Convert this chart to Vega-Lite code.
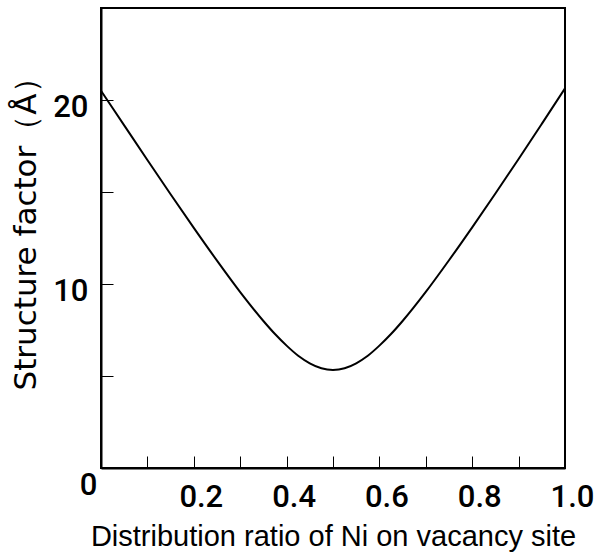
{
  "$schema": "https://vega.github.io/schema/vega-lite/v6.json",
  "width": 464,
  "height": 460,
  "autosize": {"type": "none"},
  "padding": {"left": 101, "top": 8, "right": 33, "bottom": 88},
  "background": "white",
  "config": {
    "view": {"stroke": "black", "strokeWidth": 2},
    "axis": {"grid": false, "domainColor": "black", "domainWidth": 2, "tickColor": "black", "tickWidth": 1, "labelColor": "black", "titleColor": "black", "labelFont": "Roboto", "titleFont": "Liberation Sans", "labelFontWeight": 500, "titleFontWeight": "normal"}
  },
  "data": {
    "values": [
      {"x": 0, "y": 20.5},
      {"x": 0.05, "y": 18.62},
      {"x": 0.1, "y": 16.74},
      {"x": 0.15, "y": 14.88},
      {"x": 0.2, "y": 13.05},
      {"x": 0.25, "y": 11.27},
      {"x": 0.3, "y": 9.56},
      {"x": 0.35, "y": 7.99},
      {"x": 0.375, "y": 7.28},
      {"x": 0.4, "y": 6.65},
      {"x": 0.425, "y": 6.1},
      {"x": 0.45, "y": 5.69},
      {"x": 0.475, "y": 5.42},
      {"x": 0.5, "y": 5.33},
      {"x": 0.525, "y": 5.42},
      {"x": 0.55, "y": 5.69},
      {"x": 0.575, "y": 6.1},
      {"x": 0.6, "y": 6.65},
      {"x": 0.625, "y": 7.28},
      {"x": 0.65, "y": 7.99},
      {"x": 0.7, "y": 9.57},
      {"x": 0.75, "y": 11.29},
      {"x": 0.8, "y": 13.08},
      {"x": 0.85, "y": 14.92},
      {"x": 0.9, "y": 16.79},
      {"x": 0.95, "y": 18.7},
      {"x": 1, "y": 20.63}
    ]
  },
  "mark": {"type": "line", "color": "black", "strokeWidth": 2, "interpolate": "monotone", "clip": true},
  "encoding": {
    "x": {
      "field": "x",
      "type": "quantitative",
      "scale": {"domain": [0, 1], "nice": false},
      "axis": {
        "title": "Distribution ratio of Ni on vacancy site",
        "titleFontSize": 29,
        "titlePadding": 10,
        "values": [0, 0.1, 0.2, 0.3, 0.4, 0.5, 0.6, 0.7, 0.8, 0.9, 1],
        "labelExpr": "round(datum.value * 10) % 2 == 1 ? '' : (datum.value == 0 ? '0' : format(datum.value, '.1f'))",
        "labelFontSize": 31,
        "labelFlush": false,
        "labelOverlap": false,
        "tickSize": -12,
        "labelPadding": {"condition": {"test": "datum.value == 0", "value": 14}, "value": 26},
        "labelOffset": {"condition": {"test": "datum.value == 0", "value": -13}, "value": 7}
      }
    },
    "y": {
      "field": "y",
      "type": "quantitative",
      "scale": {"domain": [0, 25], "nice": false},
      "axis": {
        "title": "Structure factor（Å）",
        "titleFont": "DejaVu Sans",
        "titleFontSize": 31,
        "titlePadding": 10,
        "titleY": 218,
        "values": [5, 10, 15, 20],
        "labelExpr": "datum.value % 10 == 0 ? format(datum.value, 'd') : ''",
        "labelFontSize": 31,
        "labelOverlap": false,
        "tickSize": -12,
        "labelPadding": 25,
        "labelOffset": 7
      }
    }
  }
}
